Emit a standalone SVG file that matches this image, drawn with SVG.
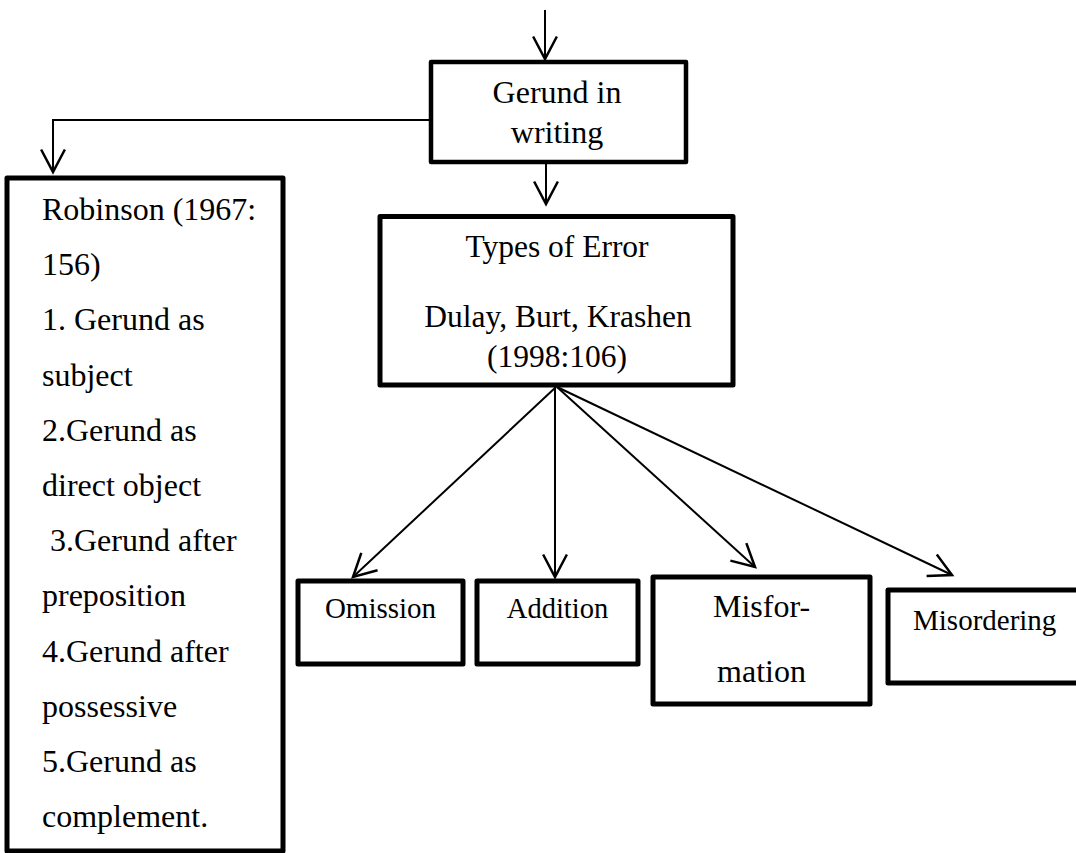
<svg xmlns="http://www.w3.org/2000/svg" width="1076" height="853" viewBox="0 0 1076 853">
<style>
.box{fill:#fff;stroke:#000;stroke-width:5;stroke-linejoin:round}
text{font-family:'Liberation Serif','Times New Roman','DejaVu Serif',serif;fill:#000}
.c{text-anchor:middle}
.conn{fill:none;stroke:#000;stroke-width:2}
</style>
<defs>
<marker id="ah" markerUnits="userSpaceOnUse" markerWidth="30" markerHeight="30" viewBox="-20 -12 22 24" refX="0" refY="0" orient="auto">
<path d="M-18,-9.5 L0,0 L-18,9.5" fill="none" stroke="#000" stroke-width="2"/>
</marker>
</defs>
<rect width="1076" height="853" fill="#fff"/>
<g id="connectors">
<line class="conn" x1="545" y1="10" x2="545" y2="59" marker-end="url(#ah)"/>
<line class="conn" x1="546" y1="162" x2="546" y2="204" marker-end="url(#ah)"/>
<path class="conn" d="M431,120 H53 V172" marker-end="url(#ah)"/>
<line class="conn" x1="556" y1="387" x2="353" y2="577" marker-end="url(#ah)"/>
<line class="conn" x1="555" y1="387" x2="555" y2="577" marker-end="url(#ah)"/>
<line class="conn" x1="557" y1="387" x2="755" y2="567" marker-end="url(#ah)"/>
<line class="conn" x1="557" y1="387" x2="952" y2="575" marker-end="url(#ah)"/>
</g>
<g id="gerund" font-family="Liberation Serif, serif">
<rect class="box" x="431" y="62" width="255" height="100" style="stroke-width:4.5"/>
<text class="c" x="557" y="103" font-size="32">Gerund in</text>
<text class="c" x="557" y="143" font-size="32">writing</text>
</g>
<g id="robinson" font-family="Liberation Serif, serif">
<rect class="box" x="7" y="178" width="276" height="673"/>
<g font-size="32">
<text x="42" y="220">Robinson (1967:</text>
<text x="42" y="275">156)</text>
<text x="42" y="330">1. Gerund as</text>
<text x="42" y="386">subject</text>
<text x="42" y="441">2.Gerund as</text>
<text x="42" y="496">direct object</text>
<text x="50" y="551">3.Gerund after</text>
<text x="42" y="606">preposition</text>
<text x="42" y="662">4.Gerund after</text>
<text x="42" y="717">possessive</text>
<text x="42" y="772">5.Gerund as</text>
<text x="42" y="827">complement.</text>
</g>
</g>
<g id="types">
<rect class="box" x="380" y="216.5" width="353" height="168.5"/>
<text class="c" x="557" y="257" font-size="31.5">Types of Error</text>
<text class="c" x="558" y="327" font-size="31.5">Dulay, Burt, Krashen</text>
<text class="c" x="557" y="367" font-size="31.5">(1998:106)</text>
</g>
<g id="omission">
<rect class="box" x="298" y="581" width="165" height="83"/>
<text class="c" x="380.5" y="618" font-size="29">Omission</text>
</g>
<g id="addition">
<rect class="box" x="477" y="581" width="161" height="83"/>
<text class="c" x="557.5" y="618" font-size="28.5">Addition</text>
</g>
<g id="misformation">
<rect class="box" x="653" y="577" width="217" height="127"/>
<text class="c" x="761.5" y="617" font-size="32">Misfor-</text>
<text class="c" x="761.5" y="682" font-size="32">mation</text>
</g>
<g id="misordering">
<rect class="box" x="888" y="590" width="200" height="93"/>
<text x="913" y="630" font-size="29">Misordering</text>
</g>
</svg>
